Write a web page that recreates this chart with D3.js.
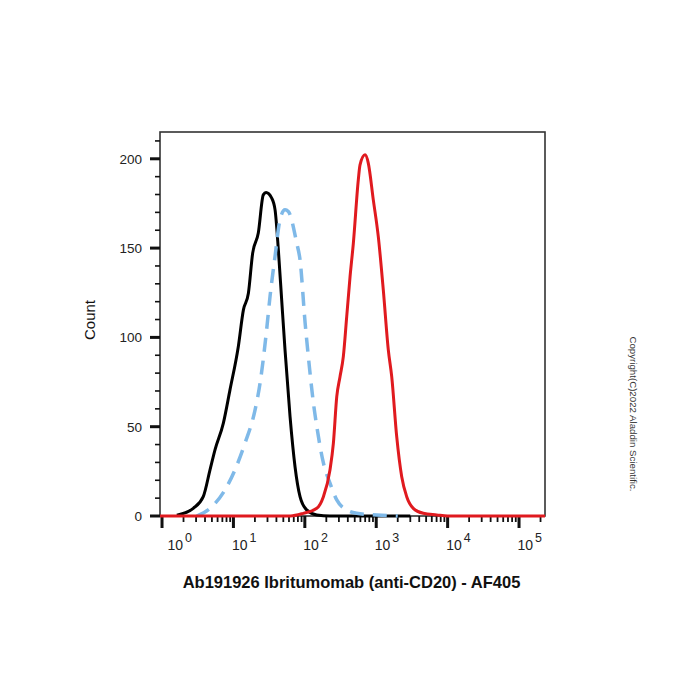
<!DOCTYPE html>
<html><head><meta charset="utf-8">
<script src="https://cdn.jsdelivr.net/npm/d3@7"></script>
<style>body{margin:0;background:#fff;} svg{display:block;font-family:"Liberation Sans",Arial,sans-serif;}</style>
</head><body>
<svg id="c" width="700" height="700"></svg>
<script>
// Fluorescence intensity (AF405) and event counts
const isotypeX = [1.61,2.74,3.78,4.70,5.52,7.23,8.95,11.7,13.8,16.2,18.6,22.3,26.2,28.6,34.4,38.3,42.6,47.4,52.8,62.1,72.9,85.7,106,147,225,3000];
const isotypeY = [0.5,4.3,10.8,25.8,37,52,70.6,94.8,115.4,124.7,147.2,158.4,179.8,181.1,178,171.4,149,121,93,55.6,27.6,10.8,3.4,0.6,0,0];

const controlX = [3.06,4.70,7.62,10.5,14.5,20.1,23.6,29.2,32.6,38.3,45.0,52.8,58.7,77.1,85.7,101,112,132,147,182,225,280,386,533,1016,2000];
const controlY = [0,4.3,14.6,25.8,40.7,59.4,74.3,104.4,123.1,145.5,166,171.4,170.5,152.7,143.4,108,89.3,63.2,50.2,29.7,18.4,9.0,3.4,1.5,0.6,0];

const stainedX = [0.937,63,95.3,147,182,225,251,280,311,346,386,430,478,561,593,697,774,910,1069,1256,1476,1648,1936,2275,2673,3304,4560,7031,10000,231000];
const stainedY = [0,0,1.5,4.3,10.8,25.8,40.7,66.8,78,89.2,111.6,134,152.7,188.2,196.6,202.2,197.6,177,156.4,126.6,93,78,44.4,22,10.8,4.3,1.5,0.6,0,0];

const yTicks = [0,50,100,150,200];
const xDecades = [0,1,2,3,4,5];
const xTitle = "Ab191926 Ibritumomab (anti-CD20) - AF405";
const yTitle = "Count";
const copyright = "Copyright(C)2022 Aladdin Scientific.";

const svg = d3.select("#c");
const L=160, R=545, T=132, B=516;
const x = d3.scaleLog().domain([0.937, 231000]).range([L, R]);
const y = d3.scaleLinear().domain([0, 215]).range([B, T]);

// frame
svg.append("rect").attr("x",L).attr("y",T).attr("width",R-L).attr("height",B-T)
  .attr("fill","none").attr("stroke","#333").attr("stroke-width",1.6);

// y ticks
const g = svg.append("g");
d3.range(0, 211, 10).forEach(v=>{
  const major = v % 50 === 0;
  g.append("line").attr("x1", major?150:155).attr("x2",L)
   .attr("y1",y(v)).attr("y2",y(v)).attr("stroke","#111").attr("stroke-width",major?3:1.6);
});
yTicks.forEach(v=>{
  g.append("text").attr("x",142).attr("y",y(v)).attr("dy","0.36em").attr("text-anchor","end")
   .attr("font-size",13.5).attr("fill","#222").text(v);
});

// x ticks
xDecades.forEach(k=>{
  for (let m=1;m<=9;m++){
    const v = m*Math.pow(10,k);
    if (v < x.domain()[0] || v > x.domain()[1]) continue;
    const major = m===1;
    g.append("line").attr("x1",x(v)).attr("x2",x(v)).attr("y1",B).attr("y2",major?528:522)
     .attr("stroke","#111").attr("stroke-width",major?3:1.8);
  }
  const t = g.append("text").attr("x", x(Math.pow(10,k)) + (k===0?5.5:-1.5)).attr("y",549.5)
    .attr("font-size",14).attr("fill","#222");
  t.append("tspan").text("10");
  t.append("tspan").attr("dx",2).attr("dy",-8).attr("font-size",12.5).text(k);
});

// curves
const line = d3.line().x(d=>x(d[0])).y(d=>y(d[1])).curve(d3.curveMonotoneX);
const zip = (a,b)=>a.map((v,i)=>[v,b[i]]);
svg.append("path").datum(zip(isotypeX,isotypeY)).attr("d",line)
  .attr("fill","none").attr("stroke","#000").attr("stroke-width",3).attr("stroke-linejoin","round");
svg.append("path").datum(zip(controlX,controlY)).attr("d",line)
  .attr("fill","none").attr("stroke","#7fb9e8").attr("stroke-width",3.5).attr("stroke-dasharray","14,9");
svg.append("path").datum(zip(stainedX,stainedY)).attr("d",line)
  .attr("fill","none").attr("stroke","#e01a1f").attr("stroke-width",3).attr("stroke-linejoin","round");

// titles
svg.append("text").attr("x",351.5).attr("y",588).attr("text-anchor","middle")
  .attr("font-size",16.5).attr("font-weight","bold").attr("fill","#111").text(xTitle);
svg.append("text").attr("transform","translate(95,320) rotate(-90)").attr("text-anchor","middle")
  .attr("font-size",15).attr("fill","#111").text(yTitle);
svg.append("text").attr("transform","translate(630,414) rotate(90)").attr("text-anchor","middle")
  .attr("font-size",9.7).attr("fill","#333").text(copyright);
</script>
</body></html>
